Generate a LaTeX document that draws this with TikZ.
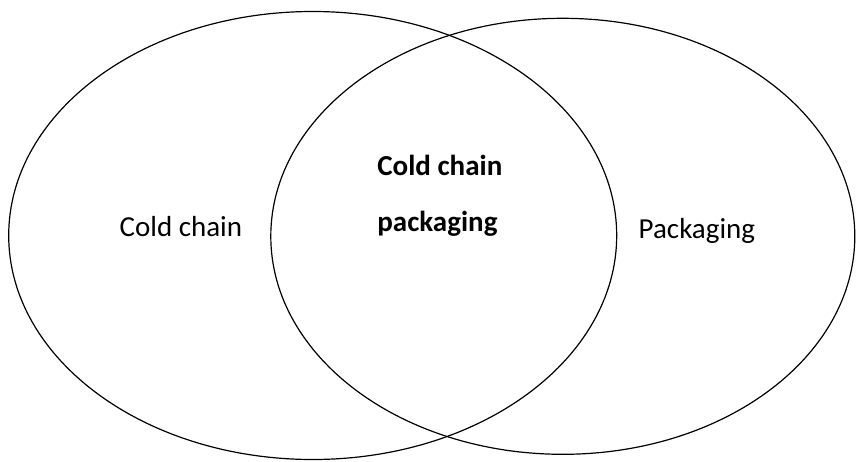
\documentclass[tikz,border=0pt]{standalone}
\usepackage{fontspec}
\setmainfont{Carlito}
\begin{document}
\begin{tikzpicture}[x=1pt,y=-1pt,
  ring/.style={draw=black,line width=1.2pt},
  setlabel/.style={inner sep=0pt,anchor=base west,font=\fontsize{29}{31}\selectfont},
  corelabel/.style={setlabel,font=\fontsize{29}{31}\selectfont\bfseries}]
\useasboundingbox (0,0) rectangle (856,461);
% the two overlapping sets
\draw[ring] (312.7,235.5) ellipse [x radius=304, y radius=224];
\draw[ring] (562.8,236.3) ellipse [x radius=292, y radius=218];
% labels
\node[setlabel] (cold) at (119.5,236) {Cold chain};
\node[setlabel] (pack) at (638.5,238) {Packaging};
\node[corelabel] (core1) at (377.2,175) {Cold chain};
\node[corelabel] (core2) at (377.2,231) {packaging};
\end{tikzpicture}
\end{document}
